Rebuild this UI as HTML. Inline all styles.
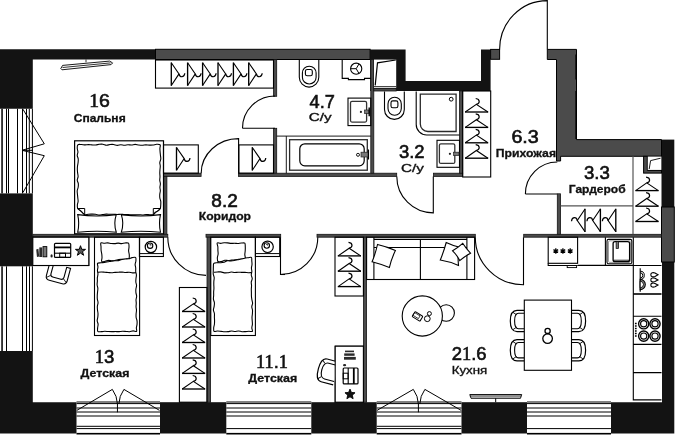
<!DOCTYPE html>
<html><head><meta charset="utf-8">
<style>
html,body{margin:0;padding:0;background:#fff;width:676px;height:436px;overflow:hidden}
svg{display:block}
.t{will-change:transform}
.t{font-family:"Liberation Sans",sans-serif;fill:#111}
.n{font-size:18px;stroke:#111;stroke-width:0.6px}
.l{font-size:11px;font-weight:bold;stroke:#111;stroke-width:0.3px}
.lr{font-size:11px;stroke:#111;stroke-width:0.35px}
.one{font-family:"Liberation Serif",serif}
</style></head><body>
<svg width="676" height="436" viewBox="0 0 676 436">
<defs>
<g id="hg" fill="none" stroke="#000" stroke-width="1.1" stroke-linejoin="miter">
<path d="M0 -11.35L7.7 -0.25L0 11.35"/><path d="M0 -11.6V11.6" stroke-width="1.35"/><path d="M7.7 -0.25C8.3 3.4 12.9 3.9 13.5 -0.9" stroke-width="1.2"/>
</g>
</defs>

<g fill="none" stroke="#000" stroke-width="1">
<rect x="1.3" y="108.7" width="1.5" height="84.7" fill="#000" stroke="none"/>
<line x1="6.5" y1="108.7" x2="6.5" y2="193.4"/>
<line x1="8.5" y1="108.7" x2="8.5" y2="193.4"/>
<line x1="17.5" y1="108.7" x2="17.5" y2="193.4"/>
<line x1="22.5" y1="108.7" x2="22.5" y2="193.4"/>
<line x1="26.5" y1="108.7" x2="26.5" y2="193.4"/>
<line x1="29.3" y1="108.7" x2="29.3" y2="193.4"/>
<line x1="32.4" y1="108.7" x2="32.4" y2="193.4"/>
<rect x="1.3" y="266.3" width="1.5" height="84.69999999999999" fill="#000" stroke="none"/>
<line x1="6.5" y1="266.3" x2="6.5" y2="351"/>
<line x1="22.5" y1="266.3" x2="22.5" y2="351"/>
<line x1="26.5" y1="266.3" x2="26.5" y2="351"/>
<line x1="29.5" y1="266.3" x2="29.5" y2="351"/>
<line x1="32.4" y1="266.3" x2="32.4" y2="351"/>
<rect x="76.5" y="432.9" width="83.5" height="1.6" fill="#000" stroke="none"/>
<line x1="76.5" y1="402" x2="160" y2="402"/>
<line x1="76.5" y1="403.6" x2="160" y2="403.6"/>
<line x1="76.5" y1="408" x2="160" y2="408"/>
<line x1="76.5" y1="412" x2="160" y2="412"/>
<line x1="76.5" y1="416" x2="160" y2="416"/>
<line x1="76.5" y1="426.3" x2="160" y2="426.3"/>
<line x1="76.5" y1="428.6" x2="160" y2="428.6"/>
<rect x="226.3" y="432.9" width="85.0" height="1.6" fill="#000" stroke="none"/>
<line x1="226.3" y1="402" x2="311.3" y2="402"/>
<line x1="226.3" y1="403.6" x2="311.3" y2="403.6"/>
<line x1="226.3" y1="408" x2="311.3" y2="408"/>
<line x1="226.3" y1="412" x2="311.3" y2="412"/>
<line x1="226.3" y1="416" x2="311.3" y2="416"/>
<line x1="226.3" y1="428.6" x2="311.3" y2="428.6"/>
<rect x="376.7" y="432.9" width="84.80000000000001" height="1.6" fill="#000" stroke="none"/>
<line x1="376.7" y1="402" x2="461.5" y2="402"/>
<line x1="376.7" y1="403.6" x2="461.5" y2="403.6"/>
<line x1="376.7" y1="408" x2="461.5" y2="408"/>
<line x1="376.7" y1="412" x2="461.5" y2="412"/>
<line x1="376.7" y1="416" x2="461.5" y2="416"/>
<line x1="376.7" y1="426.3" x2="461.5" y2="426.3"/>
<line x1="376.7" y1="428.6" x2="461.5" y2="428.6"/>
<rect x="527" y="432.9" width="84" height="1.6" fill="#000" stroke="none"/>
<line x1="527" y1="402" x2="611" y2="402"/>
<line x1="527" y1="403.6" x2="611" y2="403.6"/>
<line x1="527" y1="408" x2="611" y2="408"/>
<line x1="527" y1="412" x2="611" y2="412"/>
<line x1="527" y1="416" x2="611" y2="416"/>
<line x1="527" y1="428.6" x2="611" y2="428.6"/>
<path d="M22.9 109.2L44.3 143.8L22 150.3M22 150.3L44.3 155.7L22.9 192.6"/>
<path d="M22 150.3H33"/>
<path d="M76.8 410.4L112.35000000000001 389.4Q117.15 396 117.45 404V412.3M159.5 410.4L123.95 389.4Q119.15 396 118.85000000000001 404"/>
<path d="M377 410.4L413.3 389.4Q418.1 396 418.40000000000003 404V412.3M461.2 410.4L424.90000000000003 389.4Q420.1 396 419.8 404"/>
</g>
<g fill="#131313">
  <path d="M0 49.3H155.5V59.5H32.8V108.7H0Z"/>
  <rect x="0" y="193.4" width="32.8" height="72.9"/>
  <path d="M0 351H32.8V402.2H76.5V433.5H0Z"/>
  <rect x="160" y="402.2" width="66.3" height="31.3"/>
  <rect x="311.3" y="402.2" width="65.4" height="31.3"/>
  <rect x="461.5" y="402.2" width="65.5" height="31.3"/>
  <path d="M611 402.2H662V262H674.3V433.5H611Z"/>
  <rect x="661.5" y="139.6" width="12.8" height="67.4"/>
  <path d="M370.1 49.5H405.6V81.1H481V49.4H490.6V91H370.1Z"/>
</g>
<g fill="#4b4b4b" stroke="#000" stroke-width="1">
  <rect x="155.5" y="49.3" width="214.6" height="10.2"/>
  <rect x="490.6" y="49.4" width="9" height="9.9"/>
  <path d="M547.3 49.4H576.5V139.6H661.5V156.3H560.6V161H556.5V59.5H547.3Z"/>
  <rect x="661.5" y="207" width="12.8" height="55"/>
</g>
<g fill="#4b4b4b" stroke="#141414" stroke-width="0.8">
  <rect x="273.5" y="59.5" width="3.2" height="36.8"/>
  <rect x="273.5" y="128.3" width="3.2" height="45"/>
  <rect x="163.5" y="173.2" width="37.6" height="3.2"/>
  <rect x="238.4" y="173.2" width="158.3" height="3.2"/>
  <rect x="433.5" y="173.2" width="29.2" height="3.2"/>
  <rect x="370.8" y="59.5" width="3" height="113.7"/>
  <rect x="459.5" y="91" width="3.2" height="82.2"/>
  <rect x="163.5" y="176.4" width="3.4" height="57.9"/>
  <rect x="32.8" y="234.3" width="135" height="2.9"/>
  <rect x="206" y="234.3" width="74.7" height="2.9"/>
  <rect x="317" y="234.3" width="158.3" height="2.9"/>
  <rect x="523.7" y="234.3" width="137.8" height="2.9"/>
  <rect x="207" y="237.2" width="3.6" height="165"/>
  <rect x="363.4" y="237.2" width="3.2" height="165"/>
  <rect x="557.3" y="193.8" width="3.3" height="40.5"/>
  <rect x="373.8" y="88.3" width="22.4" height="2.7"/>
</g>
<rect x="374" y="59.6" width="22.2" height="28.3" fill="#fff"/>
<path d="M575.9 54.6V79.4M575.9 90.9V139" stroke="#000" stroke-width="1.1"/>

<g fill="none" stroke="#000" stroke-width="1.1">
  <path d="M201.2 173.2A37.4 34.6 0 0 1 238.6 138.6V173.2"/>
  <path d="M242.5 128.3A32.5 32.3 0 0 1 275 96"/><path d="M242.5 128.3H275"/>
  <path d="M396.8 176.4A36.5 36.5 0 0 0 433.3 212.9V176.4"/>
  <path d="M167.8 237.2A38.2 38.2 0 0 0 206 275.4"/>
  <path d="M317.8 237.2A37.3 37.3 0 0 1 280.5 274.5V237.2"/><path d="M280.5 274.5H285"/>
  <path d="M475.3 237.2A48.2 47.6 0 0 0 523.5 284.8V237.2"/>
  <path d="M525.4 194A31.9 32 0 0 1 557.3 162"/><path d="M525.4 194H557.3"/>
  <path d="M499.6 49.4A47.7 48.8 0 0 1 547.3 0.6V49.4"/>
</g>
<g fill="none" stroke="#000" stroke-width="1">
<path d="M60.8 68.6L62.6 65.4L109.6 61.1L112.6 62.9L111.1 64.6L62 69.8Z" stroke-width="0.9"/>
<path d="M62.5 67.5L110.5 62.9" stroke-width="0.8"/>
<path d="M86 59.5V62.3" stroke-width="0.8"/>
<rect x="74.6" y="140.8" width="88.9" height="93" stroke-width="1.2"/>
<path d="M77.80 144.80 C78.49 144.16 80.19 144.48 81.38 144.49 C82.58 144.49 83.77 144.83 84.97 144.85 C86.16 144.88 87.35 144.63 88.55 144.64 C89.74 144.66 90.94 144.87 92.13 144.92 C93.32 144.98 94.52 145.06 95.71 144.95 C96.91 144.84 98.10 144.40 99.30 144.28 C100.49 144.16 101.68 144.06 102.88 144.22 C104.07 144.37 105.27 145.16 106.46 145.20 C107.66 145.25 108.85 144.63 110.04 144.51 C111.24 144.39 112.43 144.33 113.63 144.48 C114.82 144.63 116.01 145.35 117.21 145.39 C118.40 145.44 119.60 144.80 120.79 144.76 C121.99 144.73 123.18 145.20 124.37 145.20 C125.57 145.20 126.76 144.81 127.96 144.77 C129.15 144.73 130.34 145.03 131.54 144.97 C132.73 144.90 133.93 144.38 135.12 144.38 C136.32 144.38 137.51 144.82 138.70 144.96 C139.90 145.11 141.09 145.26 142.29 145.24 C143.48 145.22 144.68 144.85 145.87 144.83 C147.06 144.80 148.26 145.06 149.45 145.09 C150.65 145.12 151.84 145.14 153.03 145.01 C154.23 144.87 155.42 144.31 156.62 144.28 C157.81 144.24 159.65 144.12 160.20 144.80 C160.75 145.48 159.91 147.16 159.90 148.34 C159.88 149.52 160.01 150.70 160.10 151.88 C160.20 153.06 160.34 154.24 160.46 155.42 C160.57 156.60 160.90 157.77 160.79 158.95 C160.67 160.13 159.88 161.32 159.79 162.50 C159.70 163.67 160.23 164.85 160.27 166.03 C160.30 167.21 160.06 168.39 159.98 169.57 C159.90 170.75 159.79 171.93 159.79 173.11 C159.79 174.29 160.00 175.47 159.99 176.65 C159.99 177.83 159.68 179.01 159.75 180.19 C159.82 181.37 160.36 182.55 160.39 183.73 C160.41 184.91 159.91 186.09 159.91 187.27 C159.90 188.45 160.36 189.63 160.34 190.81 C160.31 191.99 159.84 193.17 159.76 194.35 C159.67 195.53 159.66 196.70 159.83 197.88 C160.00 199.06 160.62 200.24 160.77 201.42 C160.92 202.60 160.81 203.78 160.73 204.96 C160.65 206.14 160.72 207.52 160.30 208.50 C159.88 209.48 159.03 210.20 158.19 210.82 C157.35 211.44 156.08 211.57 155.26 212.22 C154.45 212.86 154.23 214.27 153.30 214.70 C152.37 215.13 150.89 214.80 149.69 214.78 C148.49 214.75 147.28 214.52 146.08 214.55 C144.88 214.58 143.67 214.91 142.47 214.94 C141.26 214.96 140.06 214.71 138.86 214.69 C137.65 214.67 136.45 214.81 135.25 214.84 C134.04 214.87 132.84 214.92 131.64 214.88 C130.43 214.84 129.23 214.64 128.03 214.60 C126.82 214.55 125.62 214.66 124.42 214.60 C123.21 214.54 122.01 214.23 120.81 214.21 C119.60 214.20 118.40 214.49 117.19 214.48 C115.99 214.48 114.79 214.22 113.58 214.19 C112.38 214.15 111.18 214.28 109.97 214.27 C108.77 214.26 107.57 214.07 106.36 214.11 C105.16 214.15 103.96 214.33 102.75 214.49 C101.55 214.66 100.35 215.14 99.14 215.10 C97.94 215.07 96.74 214.43 95.53 214.27 C94.33 214.11 93.12 214.15 91.92 214.14 C90.72 214.13 89.51 214.12 88.31 214.21 C87.11 214.31 85.68 214.97 84.70 214.70 C83.72 214.43 83.17 213.29 82.42 212.57 C81.67 211.85 80.99 211.05 80.20 210.37 C79.42 209.70 78.17 209.40 77.70 208.50 C77.23 207.60 77.29 206.14 77.36 204.96 C77.43 203.78 78.03 202.60 78.11 201.42 C78.18 200.24 77.91 199.06 77.80 197.88 C77.70 196.70 77.56 195.52 77.46 194.34 C77.36 193.16 77.09 191.98 77.20 190.80 C77.32 189.63 77.97 188.45 78.16 187.27 C78.35 186.09 78.48 184.91 78.33 183.73 C78.18 182.55 77.29 181.37 77.25 180.19 C77.21 179.01 78.04 177.83 78.11 176.65 C78.18 175.47 77.78 174.29 77.65 173.11 C77.52 171.93 77.36 170.75 77.34 169.57 C77.32 168.39 77.39 167.21 77.52 166.03 C77.64 164.85 77.98 163.67 78.09 162.49 C78.21 161.32 78.37 160.14 78.23 158.96 C78.08 157.78 77.29 156.60 77.24 155.42 C77.19 154.24 77.92 153.06 77.93 151.88 C77.93 150.70 77.27 149.52 77.25 148.34 C77.23 147.16 77.11 145.44 77.80 144.80Z" stroke="#000" stroke-width="1.1"/>
<path d="M77.7 208.5H84.7V214.7ZM160.3 208.5H153.3V214.7Z" stroke="#000" stroke-width="1"/>
<path d="M77.7 214.6Q97 217.4 116.3 214.6Q113.3 223.4 116.3 232.2Q97 230.2 77.7 232.2Q79.7 223.4 77.7 214.6Z" stroke="#000" stroke-width="1.1"/>
<path d="M121.3 214.6Q141 217.4 160.5 214.6Q158.5 223.4 160.5 232.2Q141 230.2 121.3 232.2Q124.3 223.4 121.3 214.6Z" stroke="#000" stroke-width="1.1"/>
<rect x="155.5" y="60" width="118" height="28.1" stroke-width="1.1"/>
<use href="#hg" transform="translate(171.3 74.15)"/>
<use href="#hg" transform="translate(187.6 74.15)"/>
<use href="#hg" transform="translate(202.6 74.15)"/>
<use href="#hg" transform="translate(218.0 74.15)"/>
<use href="#hg" transform="translate(233.4 74.15)"/>
<use href="#hg" transform="translate(248.7 74.15)"/>
<rect x="163.5" y="144.9" width="34.8" height="28.3" stroke-width="1.1"/>
<use href="#hg" transform="translate(176.5 158.85)"/>
<rect x="238.9" y="144.9" width="34.6" height="28.3" stroke-width="1.1"/>
<use href="#hg" transform="translate(252.3 158.85)"/>
<rect x="462.7" y="91" width="28" height="86" stroke-width="1.1"/>
<use href="#hg" transform="translate(476.6 112) rotate(-90)"/>
<use href="#hg" transform="translate(476.6 127.4) rotate(-90)"/>
<use href="#hg" transform="translate(476.6 142.8) rotate(-90)"/>
<use href="#hg" transform="translate(476.6 158.2) rotate(-90)"/>
<path d="M299.3 59.5V77.35A9.75 9.75 0 0 0 318.8 77.35V59.5" stroke-width="1.1"/>
<rect x="302.4" y="66.2" width="13.7" height="17.8" rx="6.8" stroke-width="1.1"/>
<rect x="305.4" y="69.5" width="6.9" height="6.3" rx="1.8" stroke-width="1.1"/>
<path d="M342.2 59.5V78.4H348.4V79.6H364.5V78.4H370.8" stroke-width="1.1"/>
<circle cx="356.2" cy="68.7" r="5.6" stroke-width="1.1"/>
<path d="M356.2 68.7H350.6M356.2 68.7L359 63.9M356.2 68.7L359 73.5" stroke-width="1"/>
<rect x="348" y="98.1" width="22.8" height="27.5" stroke-width="1.1"/>
<rect x="350.5" y="101.4" width="16.1" height="20.7" rx="1.5" stroke-width="1.3" stroke="#333"/>
<circle cx="360.9" cy="111.9" r="1.1" fill="#222" stroke="none"/>
<rect x="364.6" y="110" width="4.6" height="3.4" fill="#777" stroke="#222" stroke-width="0.7"/>
<path d="M369.2 107.6V116.2" stroke-width="1.4"/>
<path d="M276.7 136.1H370.8M286.3 136.1V173.2" stroke-width="0.9"/>
<rect x="289.6" y="139.7" width="77.7" height="30.5" stroke-width="1.3" stroke="#2a2a2a"/>
<rect x="299.8" y="143.8" width="64.4" height="22" rx="5" stroke-width="1.2"/>
<circle cx="358" cy="154.8" r="1.5" stroke-width="0.9"/>
<rect x="361" y="152.2" width="7.6" height="4.8" fill="#777" stroke="#222" stroke-width="0.7"/>
<path d="M368.4 149.5V159.5" stroke-width="1.3"/>
<path d="M375.2 85.4L377.5 62.8L395.8 60" stroke-width="1.2"/>
<path d="M374 86.6H396.2" stroke-width="0.8"/>
<path d="M384.5 91.4V109.5A9.9 9.9 0 0 0 404.3 109.5V91.4" stroke-width="1.1"/>
<rect x="388" y="97.3" width="13.3" height="17.9" rx="6.6" stroke-width="1.1"/>
<rect x="391" y="100.9" width="6.9" height="6.8" rx="1.8" stroke-width="1.1"/>
<path d="M416.2 91.4V124.5A10.5 10.5 0 0 0 426.7 135H459.5" stroke-width="1.1"/>
<path d="M420.3 94.1H456.1V131.5H427.8A7.5 7.5 0 0 1 420.3 124Z" stroke-width="1.3" stroke="#2a2a2a"/>
<circle cx="451.2" cy="99.2" r="1.9" stroke-width="1"/>
<rect x="437" y="140.3" width="22.5" height="27" stroke-width="1.1"/>
<rect x="439.4" y="143.8" width="15.4" height="19.6" rx="1.5" stroke-width="1.3" stroke="#333"/>
<circle cx="449.9" cy="153.8" r="1.1" fill="#222" stroke="none"/>
<rect x="453.6" y="152.2" width="5.4" height="3.3" fill="#777" stroke="#222" stroke-width="0.7"/>
<rect x="32.8" y="237.2" width="56" height="28.3" stroke-width="1.1"/>
<rect x="139.4" y="237.2" width="24" height="19.3" stroke-width="1.1"/><path d="M139.4 253.6H163.4" stroke-width="1"/>
<rect x="255.4" y="237.2" width="24.3" height="19.3" stroke-width="1.1"/><path d="M255.4 253.6H279.7" stroke-width="1"/>
<circle cx="150.9" cy="247" r="5.7" stroke="#000" stroke-width="1.2"/>
<circle cx="150.1" cy="245.7" r="2.7" stroke="#000" stroke-width="1.1"/><path d="M149.70000000000002 245.1a0.7 0.7 0 1 1 0.9 0.6" stroke="#000" stroke-width="0.9"/>
<circle cx="267.6" cy="246.8" r="5.7" stroke="#000" stroke-width="1.2"/>
<circle cx="266.8" cy="245.5" r="2.7" stroke="#000" stroke-width="1.1"/><path d="M266.40000000000003 244.9a0.7 0.7 0 1 1 0.9 0.6" stroke="#000" stroke-width="0.9"/>
<rect x="94.5" y="237.2" width="45.099999999999994" height="98.3" stroke-width="1.1"/>
<path d="M100.90 243.00 C101.45 242.42 103.20 243.26 104.35 243.24 C105.50 243.22 106.65 242.85 107.80 242.88 C108.95 242.92 110.10 243.34 111.25 243.46 C112.40 243.57 113.55 243.63 114.70 243.58 C115.85 243.53 117.00 243.12 118.15 243.13 C119.30 243.14 120.45 243.67 121.60 243.65 C122.75 243.62 123.90 243.06 125.05 242.98 C126.20 242.91 127.84 242.53 128.50 243.20 C129.16 243.87 129.01 245.74 129.02 247.01 C129.04 248.29 128.56 249.58 128.60 250.85 C128.64 252.13 129.22 253.39 129.27 254.66 C129.32 255.94 129.52 257.75 128.90 258.50 C128.28 259.25 126.66 259.04 125.53 259.18 C124.40 259.32 123.25 259.28 122.11 259.34 C120.97 259.40 119.82 259.35 118.69 259.52 C117.56 259.68 116.46 260.12 115.34 260.34 C114.21 260.56 113.10 260.82 111.95 260.83 C110.80 260.84 109.60 260.30 108.46 260.38 C107.32 260.46 106.25 261.12 105.12 261.31 C103.99 261.50 102.22 262.09 101.70 261.50 C101.18 260.91 101.99 259.02 102.00 257.78 C102.01 256.54 101.93 255.31 101.78 254.08 C101.63 252.85 101.22 251.64 101.10 250.41 C100.97 249.18 101.05 247.94 101.02 246.70 C100.99 245.47 100.35 243.58 100.90 243.00Z" stroke="#000" stroke-width="1.1"/>
<path d="M97.50 263.30 C98.00 262.62 99.81 262.94 100.97 262.79 C102.13 262.64 103.30 262.56 104.45 262.40 C105.61 262.23 106.76 262.00 107.91 261.80 C109.06 261.61 110.21 261.40 111.37 261.22 C112.52 261.05 113.67 260.86 114.84 260.76 C116.01 260.66 117.21 260.81 118.36 260.60 C119.51 260.40 120.61 259.83 121.75 259.55 C122.89 259.27 124.04 259.06 125.20 258.93 C126.36 258.79 127.56 258.95 128.71 258.73 C129.86 258.52 130.94 257.85 132.09 257.63 C133.24 257.40 134.97 256.85 135.60 257.40 C136.23 257.95 135.97 259.74 135.89 260.92 C135.81 262.10 135.15 263.28 135.12 264.46 C135.09 265.63 135.62 266.80 135.72 267.97 C135.82 269.15 135.61 270.32 135.73 271.50 C135.85 272.67 136.38 273.84 136.42 275.01 C136.47 276.19 136.09 277.37 135.99 278.54 C135.89 279.72 135.74 280.89 135.84 282.07 C135.93 283.24 136.55 284.41 136.56 285.58 C136.57 286.76 136.00 287.94 135.89 289.12 C135.78 290.29 135.79 291.47 135.92 292.64 C136.04 293.81 136.63 294.98 136.65 296.15 C136.67 297.33 136.08 298.51 136.02 299.69 C135.95 300.86 136.25 302.03 136.26 303.21 C136.27 304.38 136.01 305.56 136.05 306.74 C136.09 307.91 136.48 309.08 136.49 310.25 C136.50 311.43 136.17 312.61 136.11 313.78 C136.05 314.96 135.97 316.14 136.12 317.31 C136.28 318.48 136.88 319.65 137.03 320.82 C137.18 321.99 137.15 323.17 137.03 324.35 C136.92 325.52 136.41 326.70 136.34 327.88 C136.27 329.05 137.14 330.91 136.60 331.40 C136.06 331.89 134.25 330.79 133.07 330.84 C131.90 330.89 130.72 331.60 129.55 331.70 C128.37 331.80 127.19 331.52 126.02 331.45 C124.84 331.38 123.67 331.26 122.49 331.29 C121.32 331.32 120.14 331.57 118.96 331.62 C117.79 331.66 116.61 331.56 115.44 331.56 C114.26 331.56 113.08 331.63 111.91 331.62 C110.73 331.62 109.56 331.61 108.38 331.56 C107.21 331.50 106.03 331.27 104.85 331.29 C103.68 331.30 102.50 331.62 101.33 331.64 C100.15 331.66 98.42 332.04 97.80 331.40 C97.18 330.76 97.59 329.01 97.64 327.82 C97.69 326.62 98.17 325.42 98.10 324.23 C98.02 323.04 97.23 321.84 97.18 320.65 C97.14 319.46 97.68 318.26 97.82 317.06 C97.96 315.87 98.06 314.67 98.00 313.48 C97.95 312.28 97.59 311.09 97.48 309.90 C97.37 308.70 97.26 307.51 97.36 306.31 C97.45 305.12 98.04 303.92 98.04 302.72 C98.04 301.53 97.47 300.34 97.34 299.14 C97.22 297.95 97.23 296.75 97.27 295.56 C97.30 294.36 97.45 293.17 97.55 291.97 C97.65 290.78 97.92 289.58 97.85 288.39 C97.78 287.19 97.20 286.00 97.12 284.81 C97.04 283.61 97.32 282.42 97.37 281.22 C97.41 280.03 97.27 278.83 97.36 277.64 C97.46 276.44 97.93 275.25 97.95 274.05 C97.96 272.86 97.46 271.66 97.46 270.47 C97.46 269.27 97.94 268.08 97.94 266.88 C97.95 265.69 97.00 263.98 97.50 263.30Z" fill="#fff" stroke="#000" stroke-width="1.1"/>
<path d="M97.70 272.30 C98.28 272.25 100.02 272.01 101.18 272.00 C102.35 271.98 103.50 272.10 104.66 272.19 C105.82 272.28 106.98 272.43 108.14 272.53 C109.30 272.63 110.46 272.82 111.62 272.79 C112.79 272.77 113.95 272.49 115.11 272.39 C116.27 272.29 117.43 272.23 118.59 272.19 C119.75 272.14 120.92 272.05 122.08 272.11 C123.24 272.17 124.39 272.53 125.55 272.55 C126.71 272.57 127.88 272.18 129.04 272.24 C130.20 272.29 131.36 272.82 132.52 272.88 C133.68 272.94 135.42 272.65 136.00 272.60" stroke="#000" stroke-width="1.1"/>
<rect x="210.8" y="237.2" width="44.599999999999994" height="98.3" stroke-width="1.1"/>
<path d="M217.20 243.00 C217.67 242.45 219.50 243.41 220.65 243.36 C221.80 243.32 222.95 242.82 224.10 242.73 C225.25 242.65 226.40 242.74 227.55 242.85 C228.70 242.97 229.85 243.34 231.00 243.41 C232.15 243.48 233.30 243.26 234.45 243.27 C235.60 243.28 236.75 243.50 237.90 243.46 C239.05 243.42 240.20 243.06 241.35 243.02 C242.50 242.98 244.15 242.53 244.80 243.20 C245.45 243.87 245.20 245.74 245.27 247.02 C245.34 248.29 245.29 249.57 245.21 250.84 C245.13 252.12 244.81 253.41 244.81 254.68 C244.80 255.96 245.70 257.76 245.20 258.50 C244.70 259.24 242.96 258.95 241.83 259.10 C240.69 259.25 239.55 259.30 238.42 259.40 C237.28 259.50 236.14 259.59 235.01 259.71 C233.87 259.82 232.74 259.95 231.61 260.08 C230.48 260.21 229.35 260.42 228.21 260.46 C227.07 260.51 225.88 260.16 224.75 260.33 C223.63 260.50 222.56 261.27 221.44 261.47 C220.31 261.66 218.68 262.11 218.00 261.50 C217.32 260.89 217.32 259.06 217.35 257.82 C217.37 256.58 218.03 255.32 218.12 254.08 C218.22 252.84 217.95 251.62 217.90 250.38 C217.85 249.15 217.96 247.91 217.85 246.68 C217.73 245.45 216.73 243.55 217.20 243.00Z" stroke="#000" stroke-width="1.1"/>
<path d="M213.80 263.30 C214.44 262.60 216.05 262.78 217.21 262.69 C218.36 262.60 219.57 262.84 220.72 262.76 C221.87 262.68 223.02 262.52 224.13 262.20 C225.25 261.87 226.29 261.04 227.42 260.83 C228.55 260.61 229.78 260.97 230.94 260.91 C232.10 260.85 233.23 260.68 234.37 260.48 C235.51 260.29 236.63 259.98 237.76 259.74 C238.89 259.50 240.02 259.28 241.15 259.03 C242.28 258.78 243.39 258.44 244.52 258.22 C245.66 258.01 246.81 257.89 247.95 257.75 C249.10 257.61 250.76 256.87 251.40 257.40 C252.04 257.93 251.67 259.75 251.77 260.92 C251.88 262.09 252.07 263.27 252.01 264.44 C251.96 265.62 251.46 266.80 251.44 267.97 C251.41 269.15 251.87 270.32 251.85 271.49 C251.82 272.67 251.20 273.85 251.27 275.02 C251.33 276.20 252.23 277.36 252.23 278.54 C252.23 279.71 251.36 280.90 251.25 282.07 C251.14 283.25 251.54 284.42 251.55 285.59 C251.56 286.77 251.34 287.95 251.32 289.12 C251.30 290.30 251.38 291.47 251.40 292.64 C251.42 293.82 251.36 294.99 251.44 296.17 C251.52 297.34 251.69 298.51 251.88 299.69 C252.07 300.86 252.62 302.03 252.60 303.20 C252.59 304.38 251.79 305.56 251.77 306.74 C251.76 307.91 252.40 309.08 252.51 310.25 C252.61 311.43 252.48 312.60 252.40 313.78 C252.32 314.95 252.04 316.13 252.01 317.31 C251.98 318.48 252.16 319.66 252.23 320.83 C252.29 322.00 252.48 323.18 252.41 324.35 C252.34 325.53 251.83 326.71 251.83 327.88 C251.82 329.06 252.88 330.84 252.40 331.40 C251.92 331.96 250.08 331.23 248.92 331.27 C247.76 331.30 246.60 331.52 245.44 331.59 C244.28 331.66 243.12 331.80 241.95 331.70 C240.79 331.59 239.63 331.01 238.47 330.97 C237.31 330.92 236.15 331.41 234.99 331.43 C233.83 331.44 232.67 331.04 231.51 331.06 C230.35 331.09 229.19 331.46 228.03 331.58 C226.87 331.69 225.71 331.80 224.55 331.76 C223.38 331.73 222.22 331.48 221.06 331.36 C219.90 331.23 218.74 331.01 217.58 331.02 C216.42 331.03 214.75 331.93 214.10 331.40 C213.45 330.87 213.64 329.01 213.69 327.82 C213.74 326.62 214.27 325.43 214.42 324.23 C214.56 323.03 214.56 321.84 214.56 320.65 C214.56 319.45 214.43 318.26 214.40 317.06 C214.38 315.87 214.57 314.67 214.41 313.48 C214.24 312.28 213.46 311.09 213.41 309.90 C213.37 308.70 213.98 307.51 214.14 306.31 C214.31 305.11 214.53 303.92 214.41 302.72 C214.29 301.53 213.54 300.34 213.42 299.14 C213.29 297.95 213.63 296.75 213.67 295.56 C213.71 294.36 213.60 293.17 213.65 291.97 C213.69 290.78 213.92 289.58 213.94 288.39 C213.97 287.19 213.82 286.00 213.80 284.81 C213.79 283.61 213.78 282.42 213.85 281.22 C213.91 280.03 214.29 278.83 214.19 277.64 C214.10 276.44 213.40 275.25 213.25 274.06 C213.10 272.86 213.28 271.67 213.30 270.47 C213.32 269.28 213.28 268.08 213.37 266.89 C213.45 265.69 213.16 264.00 213.80 263.30Z" fill="#fff" stroke="#000" stroke-width="1.1"/>
<path d="M214.00 272.30 C214.57 272.24 216.29 272.01 217.44 271.95 C218.59 271.89 219.73 271.77 220.88 271.92 C222.02 272.07 223.16 272.72 224.31 272.86 C225.45 273.00 226.60 272.90 227.74 272.76 C228.89 272.62 230.04 272.07 231.19 272.02 C232.33 271.97 233.47 272.42 234.62 272.47 C235.76 272.51 236.91 272.33 238.06 272.31 C239.20 272.28 240.35 272.32 241.49 272.33 C242.64 272.35 243.78 272.33 244.93 272.40 C246.07 272.46 247.22 272.69 248.36 272.72 C249.51 272.75 251.23 272.62 251.80 272.60" stroke="#000" stroke-width="1.1"/>
<rect x="179.4" y="287.5" width="27.6" height="114.7" stroke-width="1.1"/>
<use href="#hg" transform="translate(193.6 311.5) rotate(-90)"/>
<use href="#hg" transform="translate(193.6 327) rotate(-90)"/>
<use href="#hg" transform="translate(193.6 342.5) rotate(-90)"/>
<use href="#hg" transform="translate(193.6 358) rotate(-90)"/>
<use href="#hg" transform="translate(193.6 373.4) rotate(-90)"/>
<use href="#hg" transform="translate(193.6 389) rotate(-90)"/>
<rect x="335" y="237.2" width="28.4" height="58.8" stroke-width="1.1"/>
<use href="#hg" transform="translate(349.4 255.9) rotate(-90)"/>
<use href="#hg" transform="translate(349.4 271.2) rotate(-90)"/>
<use href="#hg" transform="translate(349.4 286.6) rotate(-90)"/>
<rect x="335.2" y="346.2" width="28.2" height="56" stroke-width="1.1"/>
<path d="M633 156.3V234.3" stroke="#555" stroke-width="1.2"/>
<path d="M560.6 205.8H633" stroke="#555" stroke-width="1.3"/>
<use href="#hg" transform="translate(647 190.6) rotate(-90)"/>
<use href="#hg" transform="translate(647 206.2) rotate(-90)"/>
<use href="#hg" transform="translate(647 221.5) rotate(-90)"/>
<use href="#hg" transform="translate(585 220.3) rotate(180)"/>
<use href="#hg" transform="translate(600.4 220.3) rotate(180)"/>
<use href="#hg" transform="translate(615.8 220.3) rotate(180)"/>
<rect x="643.6" y="156.3" width="17.9" height="16.8" fill="#4b4b4b" stroke-width="1"/>
<path d="M661.5 170.4H647.3V156.3" fill="none" stroke-width="1"/><rect x="647.8" y="156.6" width="13.6" height="13.3" fill="#fff" stroke="none"/>
<path d="M649.2 169L650.6 160.6L660.6 158.2" stroke-width="0.9"/>
<rect x="366.6" y="237.2" width="108" height="42.3" stroke-width="1.1"/>
<path d="M373.9 237.2V279.5M466.9 237.2V279.5M373.9 239.4H466.9M373.9 247.5H466.9M420.4 239.4V279.5" stroke-width="1.1"/>
<path d="M377.5 244.5Q386.5 246.5 395.4 250.5Q391.5 258.5 389.4 267.5Q380.5 264 372.1 261.8Q375.5 253.5 377.5 244.5Z" fill="#fff" stroke-width="1.1"/>
<path d="M446.2 242.5Q452.5 245.5 458.8 247Q457.5 256 458.5 265.4Q449.5 261.5 440.3 260Q444 251 446.2 242.5Z" fill="#fff" stroke-width="1.1"/>
<path d="M462.7 243.3Q466 248.5 470.5 253.2Q464.5 256.5 459.7 260.6Q457 255 452.6 250.8Q458 247.5 462.7 243.3Z" fill="#fff" stroke-width="1.1"/>
<circle cx="446.2" cy="313" r="8.2" stroke-width="1.1"/>
<circle cx="422.3" cy="316" r="20.1" fill="#fff" stroke-width="1.1"/>
<rect x="-4.6" y="-2.9" width="9.2" height="5.8" rx="0.8" transform="translate(417.5 316.4) rotate(32)" stroke-width="1"/>
<rect x="-3.2" y="-1.6" width="6.4" height="3.2" transform="translate(416.5 315.6) rotate(32)" stroke-width="0.7"/>
<circle cx="427.3" cy="318.7" r="2.9" fill="#fff" stroke-width="1"/><circle cx="429.4" cy="313.6" r="2" fill="#fff" stroke-width="1"/>
<path d="M524.4 310.4H517.0C512.5 310.4 510.3 314.5 510.3 321.0C510.3 327.5 512.5 331.6 517.0 331.6H524.4" stroke="#000" stroke-width="1.2"/><path d="M524.4 313.29999999999995H518.5C515.8 313.29999999999995 514.6 316.5 514.6 321.0C514.6 325.5 515.8 328.70000000000005 518.5 328.70000000000005H524.4" stroke="#000" stroke-width="1.1"/><path d="M513.0 312.4L516.6 314.79999999999995M513.0 329.6L516.6 327.20000000000005" stroke="#000" stroke-width="0.9"/>
<path d="M571.5 310.4H578.9C583.4 310.4 585.5999999999999 314.5 585.5999999999999 321.0C585.5999999999999 327.5 583.4 331.6 578.9 331.6H571.5" stroke="#000" stroke-width="1.2"/><path d="M571.5 313.29999999999995H577.4C580.1 313.29999999999995 581.3 316.5 581.3 321.0C581.3 325.5 580.1 328.70000000000005 577.4 328.70000000000005H571.5" stroke="#000" stroke-width="1.1"/><path d="M582.9 312.4L579.3 314.79999999999995M582.9 329.6L579.3 327.20000000000005" stroke="#000" stroke-width="0.9"/>
<path d="M524.4 339.59999999999997H517.0C512.5 339.59999999999997 510.3 343.7 510.3 350.2C510.3 356.7 512.5 360.8 517.0 360.8H524.4" stroke="#000" stroke-width="1.2"/><path d="M524.4 342.49999999999994H518.5C515.8 342.49999999999994 514.6 345.7 514.6 350.2C514.6 354.7 515.8 357.90000000000003 518.5 357.90000000000003H524.4" stroke="#000" stroke-width="1.1"/><path d="M513.0 341.59999999999997L516.6 343.99999999999994M513.0 358.8L516.6 356.40000000000003" stroke="#000" stroke-width="0.9"/>
<path d="M571.5 339.59999999999997H578.9C583.4 339.59999999999997 585.5999999999999 343.7 585.5999999999999 350.2C585.5999999999999 356.7 583.4 360.8 578.9 360.8H571.5" stroke="#000" stroke-width="1.2"/><path d="M571.5 342.49999999999994H577.4C580.1 342.49999999999994 581.3 345.7 581.3 350.2C581.3 354.7 580.1 357.90000000000003 577.4 357.90000000000003H571.5" stroke="#000" stroke-width="1.1"/><path d="M582.9 341.59999999999997L579.3 343.99999999999994M582.9 358.8L579.3 356.40000000000003" stroke="#000" stroke-width="0.9"/>
<rect x="524.3" y="300.1" width="47.2" height="70.2" fill="#fff" stroke-width="1.1"/>
<circle cx="547.6" cy="330.9" r="2.6" stroke-width="1.3"/><circle cx="547.6" cy="338.6" r="4.8" stroke-width="1.3"/>
<rect x="548.2" y="237.2" width="29.4" height="26.1" stroke-width="1.1"/><path d="M548.2 263.3V265.5H577.6" stroke-width="1.1"/>
<rect x="567.2" y="265.5" width="9.4" height="2.1" stroke-width="0.9"/>
<path d="M577.6 265.4H633.3M633.3 237.2V399.9H661.5M633.3 265.5H661.5M633.3 316.2H661.5M633.3 344.4H661.5M633.3 372.6H661.5" stroke-width="1.1"/>
<path d="M633.3 294H661.5" stroke-width="1.6"/>
<path d="M605.4 237.2V265.4" stroke-width="1.1"/>
<rect x="607" y="239.4" width="24.8" height="24.4" rx="1.6" stroke-width="1.1"/>
<rect x="608.5" y="240.8" width="21.8" height="21.6" rx="1.2" stroke="#888" stroke-width="0.8"/>
<rect x="613.8" y="259.6" width="15.2" height="2.2" fill="#666" stroke="none"/>
<rect x="613.1" y="241.6" width="16.5" height="20.1" rx="2" stroke-width="1.3"/>
<rect x="616.1" y="241.4" width="2.5" height="7.1" fill="#777" stroke-width="0.7"/>
<path d="M640.2 268.3V291.7" stroke-width="1.1"/>
<path d="M640.2 271.2A4.1 4.1 0 0 1 640.2 279.4M640.2 272.8A2.6 2.6 0 0 1 640.2 278" stroke-width="1"/>
<path d="M640.2 279.4A5.1 5.1 0 0 1 640.2 289.6Z" fill="#999" stroke-width="1.1"/><path d="M640.2 281.2A3.3 3.3 0 0 1 640.2 287.8Z" fill="#fff" stroke-width="0.9"/>
<path d="M650.8 274.7C650.8 272.3 653.5 272.4 655 273.0L658 274.7L655 276.4C653.5 277.0 650.8 277.09999999999997 650.8 274.7Z" stroke-width="1.1"/>
<path d="M650.8 279.9C650.8 277.5 653.5 277.59999999999997 655 278.2L658 279.9L655 281.59999999999997C653.5 282.2 650.8 282.29999999999995 650.8 279.9Z" stroke-width="1.1"/>
<path d="M650.8 285.1C650.8 282.70000000000005 653.5 282.8 655 283.40000000000003L658 285.1L655 286.8C653.5 287.40000000000003 650.8 287.5 650.8 285.1Z" stroke-width="1.1"/>
<circle cx="643.7" cy="323.8" r="5.1" stroke-width="1.4"/><circle cx="643.7" cy="323.8" r="3.1" stroke-width="1.2"/>
<circle cx="655" cy="323.8" r="5.1" stroke-width="1.4"/><circle cx="655" cy="323.8" r="3.1" stroke-width="1.2"/>
<circle cx="643.7" cy="336.1" r="5.1" stroke-width="1.4"/><circle cx="643.7" cy="336.1" r="3.1" stroke-width="1.2"/>
<circle cx="655" cy="336.1" r="5.1" stroke-width="1.4"/><circle cx="655" cy="336.1" r="3.1" stroke-width="1.2"/>
<path d="M635.8 322.8V337.6" stroke-width="1.7" stroke-dasharray="1.4 1.1"/>
<path d="M469.8 394.5H521.7L520.5 398.3H471Z" fill="#ccc" stroke-width="0.9"/>
<path d="M469.8 396H521.3" stroke-width="0.6"/><path d="M495.7 398.3V402.2" stroke-width="1"/>
<g transform="translate(49.8 262.8) rotate(15)" fill="#fff" stroke-width="1.1"><path d="M0 0V13Q0 17 4 17H17.5Q21.5 17 21.5 13V0H17.5V10.5Q17.5 13 15.0 13H6.5Q4 13 4 10.5V0Z"/><path d="M4 12L0.5 15M17.5 12L21.0 15" stroke-width="0.8"/></g>
<g transform="translate(336.2 373.6) rotate(15)" fill="#fff" stroke="#000"><path d="M0 -11.75H-12.5C-17.0 -11.75 -18.5 -7.25 -18.5 0C-18.5 7.25 -17.0 11.75 -12.5 11.75H0Z" stroke="none"/><path d="M0 -11.75H-12.5C-17.0 -11.75 -18.5 -7.25 -18.5 0C-18.5 7.25 -17.0 11.75 -12.5 11.75H0" stroke-width="1.2"/><path d="M0 -8.15H-9.9C-13.4 -8.15 -14.9 -4.65 -14.9 0C-14.9 4.65 -13.4 8.15 -9.9 8.15H0" stroke-width="1.1"/><path d="M-16.3 -9.55L-13.700000000000001 -6.95M-16.3 9.55L-13.700000000000001 6.95" stroke-width="0.9"/></g>
<rect x="32.8" y="237.2" width="56" height="28.3" fill="#fff" stroke-width="1.1"/><rect x="335.2" y="346.2" width="28.2" height="56" fill="#fff" stroke-width="1.1"/>
<g fill="#2a2a2a" stroke="none"><path d="M36.2 249.6L38.4 248.8L39.2 256.4L37 257Z"/><rect x="39.3" y="247.4" width="2.8" height="9.6"/></g>
<rect x="43" y="246.6" width="3.8" height="10.2" fill="#777" stroke-width="0.9"/>
<ellipse cx="51.6" cy="255.9" rx="1.1" ry="1.6" fill="#222" stroke="none"/>
<rect x="54.5" y="243.3" width="16.2" height="14.1" rx="1" stroke-width="1.2"/>
<path d="M54.5 247.4H70.7" stroke-width="1.8"/><path d="M54.5 253.2H70.7" stroke-width="1.1"/>
<rect x="59.7" y="253.2" width="5.8" height="4.1" stroke-width="1"/>
<path d="M80.50 245.70 L81.73 249.30 L85.54 249.36 L82.50 251.65 L83.62 255.29 L80.50 253.10 L77.38 255.29 L78.50 251.65 L75.46 249.36 L79.27 249.30Z" fill="#555" stroke="#000" stroke-width="1"/>
<g fill="#2a2a2a" stroke="none"><rect x="345" y="350.6" width="9" height="1.6"/><rect x="344.2" y="353.4" width="10.4" height="2.4"/><rect x="344" y="356.9" width="11.8" height="2.8"/></g>
<ellipse cx="344.6" cy="365.2" rx="1.6" ry="1.1" fill="#222" stroke="none"/>
<rect x="343.2" y="368" width="14.8" height="15.9" rx="1" stroke-width="1.2"/>
<path d="M353.8 368V383.9" stroke-width="1.8"/><path d="M348.2 368V383.9" stroke-width="1.1"/>
<rect x="343.2" y="373.2" width="4.9" height="5.6" stroke-width="1"/>
<path d="M350.00 389.10 L351.41 392.46 L355.04 392.76 L352.28 395.14 L353.12 398.69 L350.00 396.80 L346.88 398.69 L347.72 395.14 L344.96 392.76 L348.59 392.46Z" fill="#111" stroke-width="0.9"/>
<path d="M555.80 248.30L555.80 253.70M553.46 249.65L558.14 252.35M558.14 249.65L553.46 252.35" stroke="#000" stroke-width="1.25"/>
<path d="M562.90 248.30L562.90 253.70M560.56 249.65L565.24 252.35M565.24 249.65L560.56 252.35" stroke="#000" stroke-width="1.25"/>
<path d="M570.20 248.30L570.20 253.70M567.86 249.65L572.54 252.35M572.54 249.65L567.86 252.35" stroke="#000" stroke-width="1.25"/>
</g>
<g class="t">
<text class="n" x="89.32" y="107.1" textLength="20.57" lengthAdjust="spacingAndGlyphs"><tspan class="one">1</tspan>6</text>
<text class="l" x="73.74" y="121.9" textLength="51.92" lengthAdjust="spacingAndGlyphs">Спальня</text>
<text class="n" x="309.61" y="108.0" textLength="25.22" lengthAdjust="spacingAndGlyphs">4.7</text>
<text class="lr" x="308.75" y="120.7" textLength="22.84" lengthAdjust="spacingAndGlyphs">С/у</text>
<text class="n" x="398.94" y="158.0" textLength="25.67" lengthAdjust="spacingAndGlyphs">3.2</text>
<text class="lr" x="400.96" y="171.8" textLength="22.84" lengthAdjust="spacingAndGlyphs">С/у</text>
<text class="n" x="511.41" y="142.8" textLength="27.41" lengthAdjust="spacingAndGlyphs">6.3</text>
<text class="l" x="495.77" y="156.5" textLength="60.24" lengthAdjust="spacingAndGlyphs">Прихожая</text>
<text class="n" x="583.94" y="178.8" textLength="25.89" lengthAdjust="spacingAndGlyphs">3.3</text>
<text class="l" x="568.76" y="193.4" textLength="56.87" lengthAdjust="spacingAndGlyphs">Гардероб</text>
<text class="n" x="211.39" y="207.0" textLength="26.42" lengthAdjust="spacingAndGlyphs">8.2</text>
<text class="l" x="198.75" y="220.2" textLength="52.29" lengthAdjust="spacingAndGlyphs">Коридор</text>
<text class="n" x="94.68" y="362.8" textLength="19.58" lengthAdjust="spacingAndGlyphs"><tspan class="one">1</tspan>3</text>
<text class="l" x="80.6" y="376.5" textLength="48.8" lengthAdjust="spacingAndGlyphs">Детская</text>
<text class="n" x="256.08" y="367.8" textLength="31.8" lengthAdjust="spacingAndGlyphs"><tspan class="one">1</tspan><tspan class="one">1</tspan>.<tspan class="one">1</tspan></text>
<text class="l" x="248.2" y="381.5" textLength="49.02" lengthAdjust="spacingAndGlyphs">Детская</text>
<text class="n" x="451.75" y="359.7" textLength="34.86" lengthAdjust="spacingAndGlyphs">2<tspan class="one">1</tspan>.6</text>
<text class="lr" x="451.74" y="373.5" textLength="35.49" lengthAdjust="spacingAndGlyphs">Кухня</text>
</g>
</svg>
</body></html>
